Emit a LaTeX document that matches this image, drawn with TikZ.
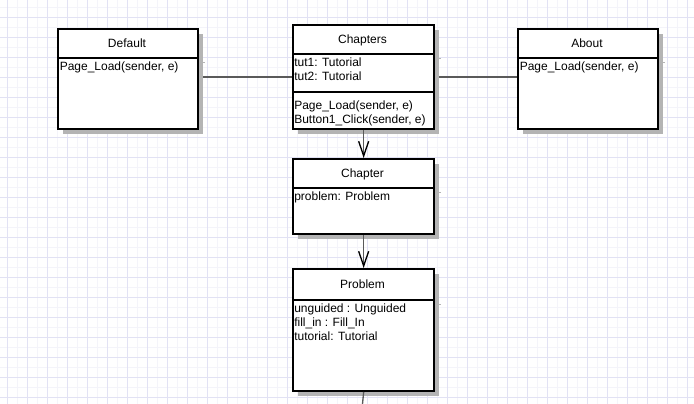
\documentclass[tikz,border=0pt]{standalone}
\usepackage{fontspec}
\setmainfont{Liberation Sans}
\usetikzlibrary{shadows,arrows.meta}

\definecolor{gridmajor}{HTML}{E2E2F4}
\definecolor{gridminor}{HTML}{F4F4FA}
\definecolor{shadowgray}{HTML}{B4B4B4}
\definecolor{linkgray}{HTML}{5A5A5A}

\pgfdeclarelayer{background}
\pgfsetlayers{background,main}

\begin{document}
\begin{tikzpicture}[x=0.75pt, y=-0.75pt, font=\fontsize{9}{10.5}\selectfont,
    classbox/.style={draw, line width=1.5pt, fill=white, inner sep=0pt, anchor=north west,
      general shadow={fill=shadowgray, shadow xshift=3.75pt, shadow yshift=-3.75pt}},
    divider/.style={line width=1.5pt},
    stub/.style={shadowgray, line width=0.75pt},
    title/.style={anchor=base, inner sep=0pt},
    members/.style={anchor=north west, align=left, inner sep=0pt},
    link/.style={linkgray, line width=1pt},
    assoc/.style={link, -{Straight Barb[length=11pt, width=7.5pt, line width=1pt, black]}}]

    \useasboundingbox (0,0) rectangle (694,404);

    % Nodes
    \node[classbox, minimum width=105pt, minimum height=75pt] (default) at (57,28) {};
    \node[classbox, minimum width=106pt, minimum height=78pt] (chapters) at (292,24) {};
    \node[classbox, minimum width=105pt, minimum height=75pt] (about) at (517,28) {};
    \node[classbox, minimum width=106pt, minimum height=56.25pt] (chapter) at (292,158) {};
    \node[classbox, minimum width=106pt, minimum height=91.5pt] (problem) at (292,268) {};
    \coordinate (exit) at (362.5,404);

    % Grid and plain links, under the boxes
    \begin{pgfonlayer}{background}
    \foreach \x in {17,37,...,697} \draw[gridminor, line width=0.75pt] (\x,0) -- (\x,404);
    \foreach \y in {7,27,...,407} \draw[gridminor, line width=0.75pt] (0,\y) -- (694,\y);
    \foreach \x in {7,27,...,687} \draw[gridmajor, line width=0.75pt] (\x,0) -- (\x,404);
    \foreach \y in {17,37,...,397} \draw[gridmajor, line width=0.75pt] (0,\y) -- (694,\y);
    \draw[link] (chapters.west) -- (default.east |- chapters.west);
    \draw[link] (chapters.east) -- (about.west |- chapters.east);
    \end{pgfonlayer}

    % Compartments
    \draw[divider] (default.west |- 0,58) -- (default.east |- 0,58);
    \draw[divider] (chapters.west |- 0,54) -- (chapters.east |- 0,54);
    \draw[divider] (chapters.west |- 0,92) -- (chapters.east |- 0,92);
    \draw[divider] (about.west |- 0,58) -- (about.east |- 0,58);
    \draw[divider] (chapter.west |- 0,188) -- (chapter.east |- 0,188);
    \draw[divider] (problem.west |- 0,300) -- (problem.east |- 0,300);

    \draw[stub] (default.east |- 0,62) -- ++(6,0);
    \draw[stub] (chapters.east |- 0,58) -- ++(6,0);
    \draw[stub] (about.east |- 0,62) -- ++(6,0);
    \draw[stub] (chapter.east |- 0,192) -- ++(6,0);
    \draw[stub] (problem.east |- 0,304) -- ++(6,0);

    % Texts
    \node[title] (defaulttitle) at (127,47) {Default};
    \node[members] (defaultops) at (59.5,62) {Page\_Load(sender, e)};

    \node[title] (chapterstitle) at (362.5,43) {Chapters};
    \node[members] (chaptersattr) at (294,58) {tut1: Tutorial\\tut2: Tutorial};
    \node[members] (chaptersops) at (294,100.5) {Page\_Load(sender, e)\\Button1\_Click(sender, e)};

    \node[title] (abouttitle) at (587,47) {About};
    \node[members] (aboutops) at (519.5,62) {Page\_Load(sender, e)};

    \node[title] (chaptertitle) at (362.5,177) {Chapter};
    \node[members] (chapterattr) at (294,192) {problem: Problem};

    \node[title] (problemtitle) at (362.5,288) {Problem};
    \node[members] (problemattr) at (294,303.5) {unguided : Unguided\\fill\_in : Fill\_In\\tutorial: Tutorial};

    % Edges
    \draw[assoc] (chapters.south) -- (chapter.north);
    \draw[assoc] (chapter.south) -- (problem.north);
    \draw[link] (problem.south) -- (exit);

\end{tikzpicture}
\end{document}
